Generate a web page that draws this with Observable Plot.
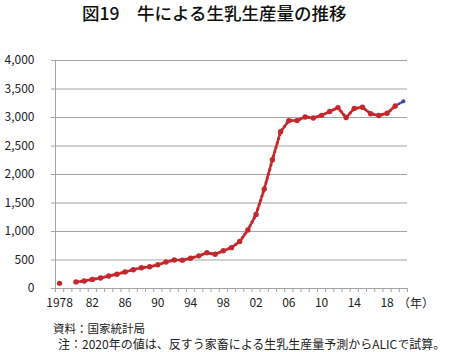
<!DOCTYPE html>
<html><head><meta charset="utf-8">
<script src="https://cdn.jsdelivr.net/npm/d3@7"></script>
<script src="https://cdn.jsdelivr.net/npm/@observablehq/plot@0.6"></script>
<style>
body{margin:0;background:#fff;font-family:"Noto Sans CJK JP","Noto Sans",sans-serif;color:#222;}
#wrap{position:relative;width:453px;height:352px;overflow:hidden;background:#fff;}
#title{position:absolute;left:82px;top:1px;font-size:17.5px;line-height:24px;font-weight:500;white-space:pre;color:#111;}
#unit{position:absolute;left:0px;top:36px;font-size:12px;line-height:12px;}
#nen{position:absolute;left:398px;top:296px;font-size:12px;line-height:14px;}
#src{position:absolute;left:53px;top:322px;font-size:11.5px;line-height:13px;}
#note{position:absolute;left:58px;top:337px;font-size:12px;line-height:14px;white-space:nowrap;}
#chart{position:absolute;left:0;top:30px;}
</style></head>
<body><div id="wrap">
<div id="title">図19　牛による生乳生産量の推移</div>
<div id="unit">（万トン）</div>
<div id="chart"></div>
<div id="nen">（年）</div>
<div id="src">資料：国家統計局</div>
<div id="note">注：2020年の値は、反すう家畜による生乳生産量予測からALICで試算。</div>
</div>
<script>
const years = [1978,1980,1981,1982,1983,1984,1985,1986,1987,1988,1989,1990,1991,1992,1993,1994,1995,1996,1997,1998,1999,2000,2001,2002,2003,2004,2005,2006,2007,2008,2009,2010,2011,2012,2013,2014,2015,2016,2017,2018,2019,2020];
const milk = [90,116,132,160,184,219,251,291,330,365,381,416,464,501,497,531,573,626,600,661,717,825,1026,1300,1744,2260,2752,2945,2946,3009,2992,3038,3106,3174,2998,3160,3179,3066,3036,3074,3201,3284];
const estimatedYears = [2020];
const yTicks = [0,500,1000,1500,2000,2500,3000,3500,4000];
const labelYears = [1978,1982,1986,1990,1994,1998,2002,2006,2010,2014,2018];

const data = years.map((y,i)=>({year:y, value:milk[i], est: estimatedYears.includes(y)}));
const actual = data.filter(d=>!d.est);
const lineActual = actual.filter(d=>d.year>=1980);
const lastActual = actual[actual.length-1];
const estSeg = [lastActual, ...data.filter(d=>d.est)];
const boundaries = d3.range(years[0]-0.5, years[years.length-1]+1, 1);

const red = "#c4282c", blue = "#3b4aa6", grid = "#a3a3a3";

const chart = Plot.plot({
  width: 453, height: 285,
  marginLeft: 55, marginRight: 46, marginTop: 30, marginBottom: 27,
  style: {fontFamily: '"Noto Sans CJK JP", "Noto Sans", sans-serif', fontSize: "12px", color: "#222", background: "#fff"},
  x: {type: "linear", domain: [years[0]-0.5, years[years.length-1]+0.5], axis: null},
  y: {domain: [0, 4000], axis: null},
  marks: [
    Plot.ruleY(yTicks, {stroke: grid, strokeWidth: 1}),
    Plot.ruleX([boundaries[0]], {stroke: grid, strokeWidth: 1}),
    Plot.axisY({ticks: yTicks, tickSize: 4, tickPadding: 17, stroke: grid, tickFormat: d3.format(","), label: null, fontSize: 12, fill: "#222"}),
    Plot.axisX({ticks: boundaries, tickSize: 4, stroke: grid, tickFormat: () => "", label: null}),
    Plot.axisX({ticks: labelYears, tickSize: 0, tickPadding: 10, tickFormat: d => d === years[0] ? String(d) : String(d % 100).padStart(2, "0"), label: null, fontSize: 12, fill: "#222"}),
    Plot.line(lineActual, {x: "year", y: "value", stroke: red, strokeWidth: 3, strokeDasharray: "2.2 2.4"}),
    Plot.line(estSeg, {x: "year", y: "value", stroke: blue, strokeWidth: 2.5, strokeDasharray: "1.5 2.2"}),
    Plot.dot(actual, {x: "year", y: "value", r: 2.7, fill: red, stroke: null}),
    Plot.dot(data.filter(d=>d.est), {x: "year", y: "value", r: 2, fill: blue, stroke: null})
  ]
});
document.getElementById("chart").appendChild(chart);
</script>
</body></html>
